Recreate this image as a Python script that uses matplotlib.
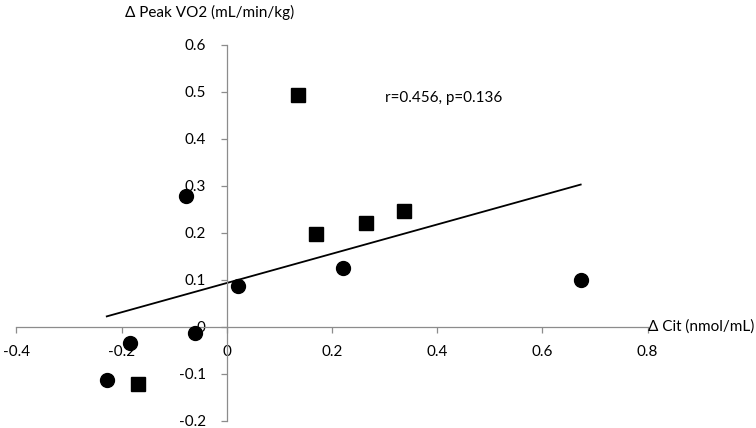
import numpy as np
import matplotlib
matplotlib.use("Agg")
import matplotlib.pyplot as plt

# Data
square_x = [0.136, 0.170, 0.264, 0.338, -0.169]
square_y = [0.492, 0.197, 0.220, 0.246, -0.121]
circle_x = [-0.077, 0.222, 0.022, 0.673, -0.060, -0.183, -0.228]
circle_y = [0.278, 0.124, 0.087, 0.099, -0.013, -0.035, -0.114]
x_ticks = [-0.4, -0.2, 0, 0.2, 0.4, 0.6, 0.8]
x_ticklabels = ["-0.4", "-0.2", "0", "0.2", "0.4", "0.6", "0.8"]
y_ticks = [-0.2, -0.1, 0, 0.1, 0.2, 0.3, 0.4, 0.5, 0.6]
y_ticklabels = ["-0.2", "-0.1", "0", "0.1", "0.2", "0.3", "0.4", "0.5", "0.6"]
stat_text = "r=0.456, p=0.136"
x_label = "Δ Cit (nmol/mL)"
y_label = "Δ Peak VO2 (mL/min/kg)"

plt.rcParams['font.family'] = ['Lato', 'DejaVu Sans']
FS = 11

fig = plt.figure(figsize=(7.56, 4.28), dpi=100)
ax = fig.add_axes([16.3/756, (428-420.7)/428, (647.5-16.3)/756, (420.7-44.7)/428])
ax.set_xlim(-0.4, 0.8)
ax.set_ylim(-0.2, 0.6)

axis_col = '#8c8c8c'
for s in ['top', 'right']:
    ax.spines[s].set_visible(False)
ax.spines['left'].set_position(('data', 0))
ax.spines['bottom'].set_position(('data', 0))
ax.spines['left'].set_color(axis_col)
ax.spines['bottom'].set_color(axis_col)
ax.spines['left'].set_linewidth(0.9)
ax.spines['bottom'].set_linewidth(0.9)

ax.set_xticks(x_ticks)
ax.set_xticklabels(x_ticklabels)
ax.set_yticks(y_ticks)
ax.set_yticklabels(y_ticklabels)
ax.tick_params(axis='x', direction='out', length=4, width=0.9, color=axis_col,
               pad=9.5, labelsize=FS, labelcolor='black')
ax.tick_params(axis='y', direction='out', length=4, width=0.9, color=axis_col,
               pad=11, labelsize=FS, labelcolor='black')

all_x = np.array(square_x + circle_x)
all_y = np.array(square_y + circle_y)
slope, intercept = np.polyfit(all_x, all_y, 1)
lx = np.array([all_x.min(), all_x.max()])
ax.plot(lx, slope * lx + intercept, color='black', lw=1.3, zorder=2, clip_on=False)

ax.plot(square_x, square_y, 's', color='black', markersize=9.5, zorder=3, clip_on=False)
ax.plot(circle_x, circle_y, 'o', color='black', markersize=10, zorder=3, clip_on=False)

ax.text(0.8, 0, x_label, ha='left', va='center', fontsize=FS, transform=ax.transData)
fig.text(210/756, 1 - 12/428, y_label, ha='center', va='center', fontsize=FS)
fig.text(385/756, 1 - 98/428, stat_text, ha='left', va='center', fontsize=FS)

fig.savefig('out.png', dpi=100)
